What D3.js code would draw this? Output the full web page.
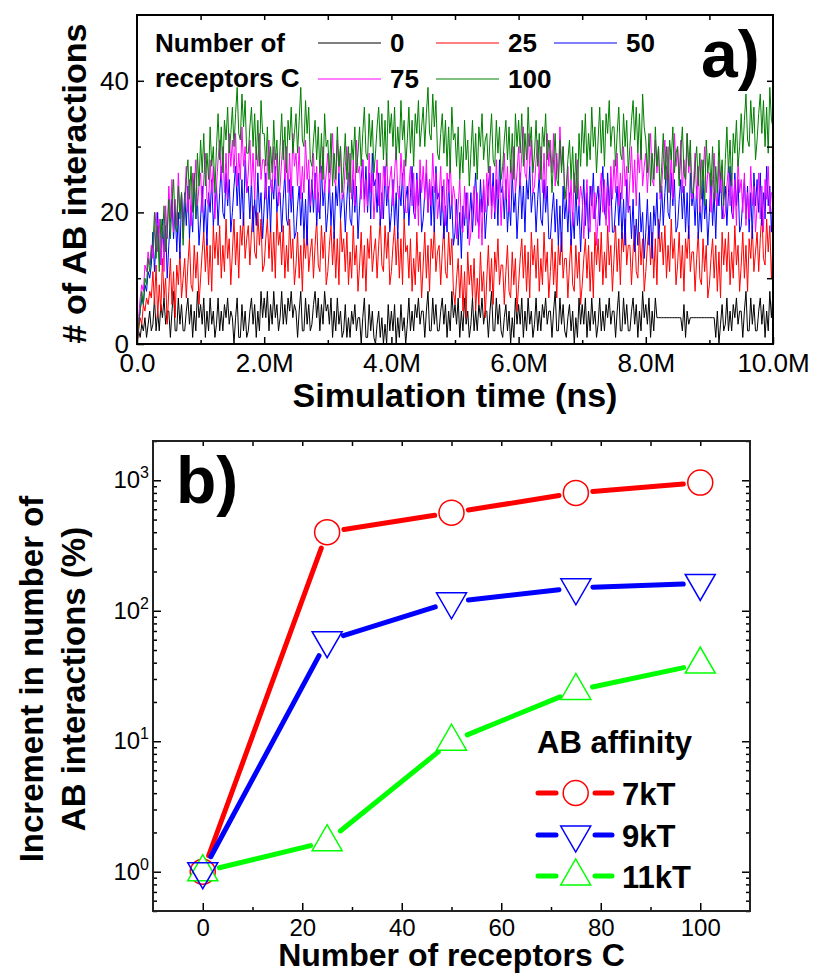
<!DOCTYPE html>
<html>
<head>
<meta charset="utf-8">
<script src="https://cdn.jsdelivr.net/npm/d3@7"></script>
<style>
body { margin: 0; background: #fff; }
svg text { font-family: "Liberation Sans", Arial, sans-serif; }
</style>
</head>
<body>
<svg width="813" height="974"></svg>
<script>
/* global d3 */

// ---------- datos panel a (muestras cada 25k ns, 0 .. 10M, una fila = 0.5M) ----------
var paso = 25000;

var serie_0 = [
  0,2,1,3,2,4,1,3,5,2, 3,7,2,5,2,6,4,7,3,5,
  5,1,5,8,2,2,7,3,6,2, 2,5,7,3,6,1,5,2,8,4,
  6,3,7,1,5,2,7,3,5,1, 3,7,2,5,2,6,4,7,3,5,
  4,0,4,7,1,1,6,2,5,1, 2,5,7,3,6,1,5,2,8,4,
  7,4,8,2,6,3,8,4,6,2, 4,8,3,6,3,7,5,8,4,6,
  5,1,5,8,2,2,7,3,6,2, 3,6,8,4,7,2,6,3,8,5,
  6,3,7,1,5,2,7,3,5,1, 2,6,1,4,1,5,3,6,2,4,
  4,0,4,7,1,1,6,2,5,1, 0,3,5,1,4,0,3,0,6,2,
  5,2,6,0,4,1,6,2,4,0, 3,7,2,5,2,6,4,7,3,5,
  5,1,5,8,2,2,7,3,6,2, 2,5,7,3,6,1,5,2,8,4,
  6,3,7,1,5,2,7,3,5,1, 3,7,2,5,2,6,4,7,3,5,
  5,1,5,8,2,2,7,3,6,2, 1,4,6,2,5,0,4,1,7,3,
  6,3,7,1,5,2,7,3,5,1, 3,7,2,5,2,6,4,7,3,5,
  5,1,5,8,2,2,7,3,6,2, 1,4,6,2,5,0,4,1,7,3,
  6,3,7,1,5,2,7,3,5,1, 3,7,2,5,2,6,4,7,3,5,
  5,1,5,8,2,2,7,3,6,2, 2,5,7,3,6,1,5,2,8,4,
  6,3,7,1,5,2,7,4,4,4, 4,4,4,4,4,4,4,4,4,4,
  4,4,4,2,6,1,5,3,4,4, 4,4,4,4,4,4,4,4,4,4,
  4,4,4,4,1,5,0,3,6,2, 3,7,2,5,2,6,4,7,3,5,
  5,1,5,8,2,2,7,3,6,2, 2,5,7,3,6,1,5,2,8,4,
  8
];

var serie_25 = [
  0,2,4,3,6,5,7,6,8,7, 11,6,12,4,9,5,13,7,10,3,
  8,13,6,11,4,12,9,14,7,10, 13,7,12,16,9,8,15,10,14,6,
  10,14,17,11,16,9,15,8,18,13, 17,12,18,10,15,11,19,13,16,9,
  14,19,12,17,10,18,15,20,13,16, 18,12,17,21,14,13,20,15,19,11,
  12,16,19,13,18,11,17,10,20,15, 17,12,18,10,15,11,19,13,16,9,
  12,17,10,15,8,16,13,18,11,14, 16,10,15,19,12,11,18,13,17,9,
  11,15,18,12,17,10,16,9,19,14, 16,11,17,9,14,10,18,12,15,8,
  12,17,10,15,8,16,13,18,11,14, 16,10,15,19,12,11,18,13,17,9,
  11,15,18,12,17,10,16,9,19,14, 15,10,16,8,13,9,17,11,14,7,
  12,17,10,15,8,16,13,18,11,14, 15,9,14,18,11,10,17,12,16,8,
  6,10,13,7,12,5,11,4,14,9, 12,7,13,5,10,6,14,8,11,4,
  10,15,8,13,6,14,11,16,9,12, 12,6,11,15,8,7,14,9,13,5,
  9,13,16,10,15,8,14,7,17,12, 15,10,16,8,13,9,17,11,14,7,
  11,16,9,14,7,15,12,17,10,13, 13,7,12,16,9,8,15,10,14,6,
  9,13,16,10,15,8,14,7,17,12, 16,11,17,9,14,10,18,12,15,8,
  13,18,11,16,9,17,14,19,12,15, 15,9,14,18,11,10,17,12,16,8,
  11,15,18,12,17,10,16,9,19,14, 17,12,18,10,15,11,19,13,16,9,
  12,17,10,15,8,16,13,18,11,14, 14,8,13,17,10,9,16,11,15,7,
  9,13,16,10,15,8,14,7,17,12, 16,11,17,9,14,10,18,12,15,8,
  12,17,10,15,8,16,13,18,11,14, 17,11,16,20,13,12,19,14,18,10,
  16
];

var serie_50 = [
  0,3,5,7,6,9,8,11,10,12, 17,11,16,20,13,12,19,14,18,10,
  15,19,22,16,21,14,20,13,23,18, 23,18,24,16,21,17,25,19,22,15,
  19,24,17,22,15,23,20,25,18,21, 24,18,23,27,20,19,26,21,25,17,
  20,24,27,21,26,19,25,18,28,23, 24,19,25,17,22,18,26,20,23,16,
  21,26,19,24,17,25,22,27,20,23, 23,17,22,26,19,18,25,20,24,16,
  17,21,24,18,23,16,22,15,25,20, 25,20,26,18,23,19,27,21,24,17,
  20,25,18,23,16,24,21,26,19,22, 23,17,22,26,19,18,25,20,24,16,
  21,25,28,22,27,20,26,19,29,24, 25,20,26,18,23,19,27,21,24,17,
  20,25,18,23,16,24,21,26,19,22, 24,18,23,27,20,19,26,21,25,17,
  19,23,26,20,25,18,24,17,27,22, 23,18,24,16,21,17,25,19,22,15,
  17,22,15,20,13,21,18,23,16,19, 23,17,22,26,19,18,25,20,24,16,
  20,24,27,21,26,19,25,18,28,23, 24,19,25,17,22,18,26,20,23,16,
  21,26,19,24,17,25,22,27,20,23, 23,17,22,26,19,18,25,20,24,16,
  16,20,23,17,22,15,21,14,24,19, 22,17,23,15,20,16,24,18,21,14,
  20,25,18,23,16,24,21,26,19,22, 24,18,23,27,20,19,26,21,25,17,
  17,21,24,18,23,16,22,15,25,20, 21,16,22,14,19,15,23,17,20,13,
  17,22,15,20,13,21,18,23,16,19, 24,18,23,27,20,19,26,21,25,17,
  18,22,25,19,24,17,23,16,26,21, 23,18,24,16,21,17,25,19,22,15,
  20,25,18,23,16,24,21,26,19,22, 24,18,23,27,20,19,26,21,25,17,
  18,22,25,19,24,17,23,16,26,21, 25,20,26,18,23,19,27,21,24,17,
  23
];

var serie_75 = [
  0,4,7,9,8,12,11,14,12,15, 13,17,20,14,19,12,18,11,21,16,
  24,19,25,17,22,18,26,20,23,16, 22,27,20,25,18,26,23,28,21,24,
  26,20,25,29,22,21,28,23,27,19, 24,28,31,25,30,23,29,22,32,27,
  31,26,32,24,29,25,33,27,30,23, 26,31,24,29,22,30,27,32,25,28,
  28,22,27,31,24,23,30,25,29,21, 24,28,31,25,30,23,29,22,32,27,
  29,24,30,22,27,23,31,25,28,21, 24,29,22,27,20,28,25,30,23,26,
  29,23,28,32,25,24,31,26,30,22, 23,27,30,24,29,22,28,21,31,26,
  27,22,28,20,25,21,29,23,26,19, 23,28,21,26,19,27,24,29,22,25,
  27,21,26,30,23,22,29,24,28,20, 20,24,27,21,26,19,25,18,28,23,
  27,22,28,20,25,21,29,23,26,19, 22,27,20,25,18,26,23,28,21,24,
  22,16,21,25,18,17,24,19,23,15, 17,21,24,18,23,16,22,15,25,20,
  26,21,27,19,24,20,28,22,25,18, 24,29,22,27,20,28,25,30,23,26,
  30,24,29,33,26,25,32,27,31,23, 24,28,31,25,30,23,29,22,32,27,
  31,26,32,24,29,25,33,27,30,23, 22,27,20,25,18,26,23,28,21,24,
  22,16,21,25,18,17,24,19,23,15, 19,23,26,20,25,18,24,17,27,22,
  28,23,29,21,26,22,30,24,27,20, 25,30,23,28,21,29,26,31,24,27,
  29,23,28,32,25,24,31,26,30,22, 24,28,31,25,30,23,29,22,32,27,
  30,25,31,23,28,24,32,26,29,22, 24,29,22,27,20,28,25,30,23,26,
  26,20,25,29,22,21,28,23,27,19, 20,24,27,21,26,19,25,18,28,23,
  25,20,26,18,23,19,27,21,24,17, 21,26,19,24,17,25,22,27,20,23,
  23
];

var serie_100 = [
  0,3,5,8,6,10,9,13,11,14, 15,20,13,18,11,19,16,21,14,17,
  22,16,21,25,18,17,24,19,23,15, 21,25,28,22,27,20,26,19,29,24,
  31,26,32,24,29,25,33,27,30,23, 30,35,28,33,26,34,31,36,29,32,
  36,30,35,39,32,31,38,33,37,29, 29,33,36,30,35,28,34,27,37,32,
  32,27,33,25,30,26,34,28,31,24, 30,35,28,33,26,34,31,36,29,32,
  35,29,34,39,31,30,37,32,36,28, 27,31,34,28,33,26,32,25,35,30,
  31,26,32,24,29,25,33,27,30,23, 27,32,25,30,23,31,28,33,26,29,
  33,27,32,36,29,28,35,30,34,26, 29,33,36,30,35,28,34,27,37,32,
  35,30,36,28,33,29,37,31,34,27, 31,36,29,34,27,35,32,37,30,33,
  36,30,35,39,32,31,38,33,37,29, 28,32,35,29,34,27,33,26,36,31,
  32,27,33,25,30,26,34,28,31,24, 29,34,27,32,25,33,30,35,28,31,
  32,26,31,35,28,27,34,29,33,25, 27,31,34,28,33,26,32,25,35,30,
  34,29,35,27,32,28,36,30,33,26, 29,34,27,32,25,33,30,35,28,31,
  29,23,28,32,25,24,31,26,30,22, 24,28,31,25,30,23,29,22,32,27,
  34,29,35,27,32,28,36,30,33,26, 31,36,29,34,27,35,32,37,30,33,
  33,27,32,36,29,28,35,30,34,26, 30,34,37,31,36,29,35,28,38,33,
  31,26,32,24,29,25,33,27,30,23, 27,32,25,30,23,31,28,33,26,29,
  30,24,29,33,26,25,32,27,31,23, 23,27,30,24,29,22,28,21,31,26,
  29,24,30,22,27,23,31,25,28,21, 28,33,26,31,24,32,29,34,27,30,
  35,29,34,38,31,30,37,32,36,28, 31,35,38,32,37,30,36,29,39,34,
  33
];

var nombres_a = ["0", "25", "50", "75", "100"];
var colores_a = ["#000000", "#ff0000", "#0000ff", "#ff00ff", "#008000"];
var ticks_x_a = [0, 2e6, 4e6, 6e6, 8e6, 1e7];
var etiquetas_x_a = ["0.0", "2.0M", "4.0M", "6.0M", "8.0M", "10.0M"];
var ticks_y_a = [0, 20, 40];

// ---------- datos panel b ----------
var receptores = [0, 25, 50, 75, 100];
var afinidad_7kT = [1, 400, 565, 800, 960];
var afinidad_9kT = [1, 59, 117, 150, 162];
var afinidad_11kT = [1, 1.7, 10, 24.5, 39];
var nombres_b = ["7kT", "9kT", "11kT"];
var colores_b = ["#ff0000", "#0000ff", "#00ff00"];
var ticks_x_b = [0, 20, 40, 60, 80, 100];
var ticks_y_b = [1, 10, 100, 1000];

var svg = d3.select("svg");

function estilo_eje(g, tam){
  g.select(".domain").remove();
  g.selectAll(".tick line").attr("stroke", "#000").attr("stroke-width", 1.5);
  g.attr("font-size", tam).attr("fill", "#000");
  g.selectAll("text").attr("fill", "#000");
}

// ================= panel a =================
var pa = {left: 137, top: 15, right: 773, bottom: 344};
var xa = d3.scaleLinear().domain([0, 1e7]).range([pa.left, pa.right]);
var ya = d3.scaleLinear().domain([0, 50]).range([pa.bottom, pa.top]);

svg.append("clipPath").attr("id", "clipa")
  .append("rect").attr("x", pa.left).attr("y", pa.top)
  .attr("width", pa.right - pa.left).attr("height", pa.bottom - pa.top);

var linea_a = d3.line()
  .x(function(d, i) { return xa(i * paso); })
  .y(function(d) { return ya(d); });

var series_a = [serie_0, serie_25, serie_50, serie_75, serie_100];
var ga = svg.append("g").attr("clip-path", "url(#clipa)");
ga.selectAll("path.serie")
  .data(series_a)
  .enter().append("path")
  .attr("class", "serie")
  .attr("fill", "none")
  .attr("stroke", function(d, i) { return colores_a[i]; })
  .attr("stroke-width", 1)
  .attr("d", function(d) { return linea_a(d); });

// ejes panel a
var ax1 = svg.append("g").attr("transform", "translate(0," + pa.bottom + ")")
  .call(d3.axisBottom(xa).tickValues(ticks_x_a).tickSize(-7).tickPadding(10)
    .tickFormat(function(d, i) { return etiquetas_x_a[i]; }));
estilo_eje(ax1, 26);
var ax2 = svg.append("g").attr("transform", "translate(0," + pa.bottom + ")")
  .call(d3.axisBottom(xa).tickValues([1e6, 3e6, 5e6, 7e6, 9e6]).tickSize(-4).tickFormat(""));
estilo_eje(ax2, 26);
var ax3 = svg.append("g").attr("transform", "translate(0," + pa.top + ")")
  .call(d3.axisTop(xa).tickValues(d3.range(1, 10).map(function(k) { return k * 1e6; })).tickSize(-5).tickFormat(""));
estilo_eje(ax3, 26);
var ay1 = svg.append("g").attr("transform", "translate(" + pa.left + ",0)")
  .call(d3.axisLeft(ya).tickValues(ticks_y_a).tickSize(-7).tickPadding(8));
estilo_eje(ay1, 26);
var ay2 = svg.append("g").attr("transform", "translate(" + pa.left + ",0)")
  .call(d3.axisLeft(ya).tickValues([10, 30]).tickSize(-4).tickFormat(""));
estilo_eje(ay2, 26);
var ay3 = svg.append("g").attr("transform", "translate(" + pa.right + ",0)")
  .call(d3.axisRight(ya).tickValues([10, 20, 30, 40]).tickSize(-6).tickFormat(""));
estilo_eje(ay3, 26);

svg.append("rect")
  .attr("x", pa.left).attr("y", pa.top)
  .attr("width", pa.right - pa.left).attr("height", pa.bottom - pa.top)
  .attr("fill", "none").attr("stroke", "#000").attr("stroke-width", 2);

svg.append("text")
  .attr("x", (pa.left + pa.right) / 2).attr("y", 407)
  .attr("text-anchor", "middle").attr("font-size", 34).attr("font-weight", "bold")
  .text("Simulation time (ns)");
svg.append("text")
  .attr("transform", "translate(86," + ((pa.top + pa.bottom) / 2 + 4) + ") rotate(-90)")
  .attr("text-anchor", "middle").attr("font-size", 34).attr("font-weight", "bold")
  .text("# of AB interactions");

// leyenda panel a
svg.append("text").attr("x", 155).attr("y", 52)
  .attr("font-size", 26).attr("font-weight", "bold").text("Number of");
svg.append("text").attr("x", 155).attr("y", 87)
  .attr("font-size", 26).attr("font-weight", "bold").text("receptors C");

var pos_leyenda = [[318, 43], [436, 43], [554, 43], [318, 79], [436, 79]];
nombres_a.forEach(function(n, i) {
  var p = pos_leyenda[i];
  svg.append("line")
    .attr("x1", p[0]).attr("x2", p[0] + 63).attr("y1", p[1]).attr("y2", p[1])
    .attr("stroke", colores_a[i]).attr("stroke-width", 1);
  svg.append("text").attr("x", p[0] + 72).attr("y", p[1] + 9)
    .attr("font-size", 26).attr("font-weight", "bold").text(n);
});

svg.append("text").attr("x", 701).attr("y", 77)
  .attr("font-size", 66).attr("font-weight", "bold").text("a)");

// ================= panel b =================
var pb = {left: 153, top: 441, right: 750, bottom: 911};
var xb = d3.scaleLinear().domain([-10, 110]).range([pb.left, pb.right]);
var yb = d3.scaleLog().domain([0.5, 2000]).range([pb.bottom, pb.top]);

var menores_log = [];
for (var k = -1; k <= 3; k++) {
  for (var m = 2; m <= 9; m++) {
    var v = m * Math.pow(10, k);
    if (v >= 0.5 && v <= 2000) menores_log.push(v);
  }
}

var bx1 = svg.append("g").attr("transform", "translate(0," + pb.bottom + ")")
  .call(d3.axisBottom(xb).tickValues(ticks_x_b).tickSize(-8).tickPadding(8).tickFormat(d3.format("d")));
estilo_eje(bx1, 24);
var bx2 = svg.append("g").attr("transform", "translate(0," + pb.bottom + ")")
  .call(d3.axisBottom(xb).tickValues([10, 30, 50, 70, 90]).tickSize(-4).tickFormat(""));
estilo_eje(bx2, 24);
var bx3 = svg.append("g").attr("transform", "translate(0," + pb.top + ")")
  .call(d3.axisTop(xb).tickValues(d3.range(0, 101, 10)).tickSize(-5).tickFormat(""));
estilo_eje(bx3, 24);

[pb.left, pb.right].forEach(function(xpos, lado) {
  var eje = lado === 0 ? d3.axisLeft(yb) : d3.axisRight(yb);
  var g1 = svg.append("g").attr("transform", "translate(" + xpos + ",0)")
    .call(eje.tickValues(ticks_y_b).tickSize(-8).tickPadding(5).tickFormat(""));
  estilo_eje(g1, 24);
  var eje2 = lado === 0 ? d3.axisLeft(yb) : d3.axisRight(yb);
  var g2 = svg.append("g").attr("transform", "translate(" + xpos + ",0)")
    .call(eje2.tickValues(menores_log).tickSize(-4).tickFormat(""));
  estilo_eje(g2, 24);
});

// etiquetas 10^n
ticks_y_b.forEach(function(v) {
  var t = svg.append("text")
    .attr("x", pb.left - 4).attr("y", yb(v) + 8)
    .attr("text-anchor", "end").attr("font-size", 24);
  t.append("tspan").text("10");
  t.append("tspan").attr("font-size", 16).attr("dy", -10).text(Math.round(Math.log10(v)));
});

svg.append("rect")
  .attr("x", pb.left).attr("y", pb.top)
  .attr("width", pb.right - pb.left).attr("height", pb.bottom - pb.top)
  .attr("fill", "none").attr("stroke", "#222").attr("stroke-width", 2);

// series panel b: segmentos con hueco alrededor del marcador
var series_b = [afinidad_7kT, afinidad_9kT, afinidad_11kT];
var hueco = 17;

series_b.forEach(function(serie, s) {
  for (var i = 0; i < serie.length - 1; i++) {
    var x1 = xb(receptores[i]), y1 = yb(serie[i]);
    var x2 = xb(receptores[i + 1]), y2 = yb(serie[i + 1]);
    var dx = x2 - x1, dy = y2 - y1, len = Math.sqrt(dx * dx + dy * dy);
    var ux = dx / len, uy = dy / len;
    svg.append("line")
      .attr("x1", x1 + ux * hueco).attr("y1", y1 + uy * hueco)
      .attr("x2", x2 - ux * hueco).attr("y2", y2 - uy * hueco)
      .attr("stroke", colores_b[s]).attr("stroke-width", 5)
      .attr("stroke-linecap", "round");
  }
});

function marcador(g, tipo, color, relleno){
  if (tipo === 0) {
    return g.append("circle").attr("r", 12.5)
      .attr("fill", relleno).attr("stroke", color).attr("stroke-width", 1.5);
  }
  var pts = tipo === 1 ? "M-15,-9L15,-9L0,17Z" : "M-15,9L15,9L0,-17Z";
  return g.append("path").attr("d", pts)
    .attr("fill", relleno).attr("stroke", color).attr("stroke-width", 1.5);
}

// orden: rojo, verde, azul (azul encima en x=0)
[0, 2, 1].forEach(function(s) {
  var serie = series_b[s];
  serie.forEach(function(v, i) {
    var g = svg.append("g").attr("transform", "translate(" + xb(receptores[i]) + "," + yb(v) + ")");
    marcador(g, s, colores_b[s], s === 1 ? "none" : "#fff");
  });
});

svg.append("text")
  .attr("x", (pb.left + pb.right) / 2).attr("y", 966)
  .attr("text-anchor", "middle").attr("font-size", 32).attr("font-weight", "bold")
  .text("Number of receptors C");
var ty = svg.append("text")
  .attr("transform", "translate(0,679) rotate(-90)")
  .attr("text-anchor", "middle").attr("font-size", 33).attr("font-weight", "bold");
ty.append("tspan").attr("x", 0).attr("y", 43).text("Increment in number of");
ty.append("tspan").attr("x", 0).attr("y", 85).text("AB interactions (%)");

svg.append("text").attr("x", 176).attr("y", 503)
  .attr("font-size", 66).attr("font-weight", "bold").text("b)");

// leyenda panel b
svg.append("text").attr("x", 537).attr("y", 753)
  .attr("font-size", 31).attr("font-weight", "bold").text("AB affinity");
var filas_b = [793, 835, 876];
nombres_b.forEach(function(n, s) {
  var yy = filas_b[s];
  svg.append("line").attr("x1", 538).attr("x2", 556).attr("y1", yy).attr("y2", yy)
    .attr("stroke", colores_b[s]).attr("stroke-width", 5).attr("stroke-linecap", "round");
  svg.append("line").attr("x1", 595).attr("x2", 612).attr("y1", yy).attr("y2", yy)
    .attr("stroke", colores_b[s]).attr("stroke-width", 5).attr("stroke-linecap", "round");
  var g = svg.append("g").attr("transform", "translate(575.7," + yy + ")");
  marcador(g, s, colores_b[s], "#fff");
  svg.append("text").attr("x", 622).attr("y", yy + 12)
    .attr("font-size", 31).attr("font-weight", "bold").text(n);
});
</script>
</body>
</html>
